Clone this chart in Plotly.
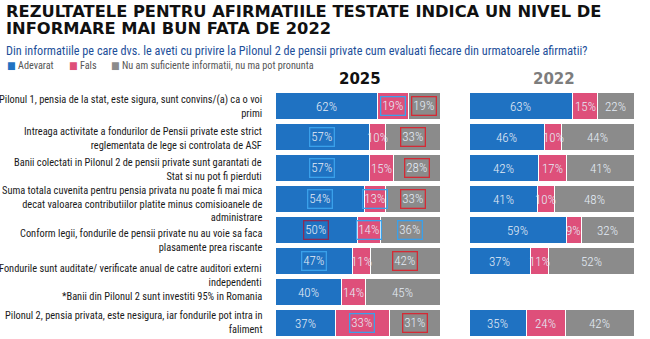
import plotly.graph_objects as go

# ---- data ----
statements = [
    "Pilonul 1, pensia de la stat, este sigura, sunt convins/(a) ca o voi<br>primi",
    "Intreaga activitate a fondurilor de Pensii private este strict<br>reglementata de lege si controlata de ASF",
    "Banii colectati in Pilonul 2 de pensii private sunt garantati de<br>Stat si nu pot fi pierduti",
    "Suma totala cuvenita pentru pensia privata nu poate fi mai mica<br>decat valoarea contributiilor platite minus comisioanele de<br>administrare",
    "Conform legii, fondurile de pensii private nu au voie sa faca<br>plasamente prea riscante",
    "Fondurile sunt auditate/ verificate anual de catre auditori externi<br>independenti",
    "*Banii din Pilonul 2 sunt investiti 95% in Romania",
    "Pilonul 2, pensia privata, este nesigura, iar fondurile pot intra in<br>faliment",
]
series_names = ["Adevarat", "Fals", "Nu am suficiente informatii, nu ma pot pronunta"]
adevarat_2025 = [62, 57, 57, 54, 50, 47, 40, 37]
fals_2025 = [19, 10, 15, 13, 14, 11, 14, 33]
nu_stiu_2025 = [19, 33, 28, 33, 36, 42, 45, 31]
adevarat_2022 = [63, 46, 42, 41, 59, 37, None, 35]
fals_2022 = [15, 10, 17, 10, 9, 11, None, 24]
nu_stiu_2022 = [22, 44, 41, 48, 32, 52, None, 42]
# highlight boxes around 2025 labels ("b" = blue box, "r" = red box, "d" = dark red box, "" = none)
box_adevarat_2025 = ["", "b", "b", "b", "d", "b", "", ""]
box_fals_2025 = ["b", "", "", "b", "b", "", "", "b"]
box_nu_stiu_2025 = ["r", "r", "r", "r", "b", "r", "", "r"]

# ---- style ----
W, H = 650, 339
colors = ["#1f72c2", "#de4f7a", "#8b8b8b"]
box_colors = {"b": "#3aa0ea", "r": "#d42a35", "d": "#8a2a55"}
label_font = "Roboto Condensed, DejaVu Sans Condensed, sans-serif"
title_font = "DejaVu Sans, Verdana, sans-serif"

rows = list(range(len(statements)))

fig = go.Figure()
panels = [
    ("x", "y", [adevarat_2025, fals_2025, nu_stiu_2025]),
    ("x2", "y2", [adevarat_2022, fals_2022, nu_stiu_2022]),
]
for xa, ya, vals in panels:
    for name, v, c in zip(series_names, vals, colors):
        fig.add_trace(go.Bar(
            y=rows, x=v, orientation="h", name=name, xaxis=xa, yaxis=ya,
            marker=dict(color=c, line=dict(color="white", width=1)),
            width=0.84, showlegend=False, hoverinfo="skip",
        ))

ann = []
# value labels (normalized cumulative positions)
boxes_2025 = [box_adevarat_2025, box_fals_2025, box_nu_stiu_2025]
for pi, (xa, ya, vals) in enumerate(panels):
    for r in rows:
        seg = [vals[k][r] for k in range(3)]
        if seg[0] is None:
            continue
        tot = sum(seg)
        cum = 0
        for k in range(3):
            w = seg[k] / tot * 100
            mid = cum + w / 2
            cum += w
            b = boxes_2025[k][r] if pi == 0 else ""
            a = dict(x=mid, y=r, xref=xa, yref=ya, text=f"{seg[k]}%", showarrow=False,
                     font=dict(family=label_font, size=13, color="#e4ecf6", weight=300),
                     xanchor="center", yanchor="middle")
            if b:
                a.update(bordercolor=box_colors[b], borderwidth=1.3, borderpad=1)
            ann.append(a)

# statement labels
label_shift = [0, -1, -1, -5, -10, -14, -4, 1]
for r, s in enumerate(statements):
    ann.append(dict(x=264 / W, y=r, xref="paper", yref="y", text=s, showarrow=False,
                    xanchor="right", yanchor="middle", align="right", yshift=label_shift[r],
                    font=dict(family=label_font, size=10.4, color="#1a1a1a")))

# titles
ann.append(dict(x=4 / W, y=1 - 11.5 / H, xref="paper", yref="paper", xanchor="left", yanchor="middle",
                text="<b>REZULTATELE PENTRU AFIRMATIILE TESTATE INDICA UN NIVEL DE</b>", showarrow=False,
                font=dict(family=title_font, size=16.3, color="#111111")))
ann.append(dict(x=4 / W, y=1 - 28 / H, xref="paper", yref="paper", xanchor="left", yanchor="middle",
                text="<b>INFORMARE MAI BUN FATA DE 2022</b>", showarrow=False,
                font=dict(family=title_font, size=16.3, color="#111111")))
ann.append(dict(x=4 / W, y=1 - 51 / H, xref="paper", yref="paper", xanchor="left", yanchor="middle",
                text="Din informatiile pe care dvs. le aveti cu privire la Pilonul 2 de pensii private cum evaluati fiecare din urmatoarele afirmatii?",
                showarrow=False, font=dict(family=label_font, size=12.2, color="#1d4f9a")))
# legend
for xpx, name, c in zip([5, 67, 109], series_names, colors):
    ann.append(dict(x=xpx / W, y=1 - 65 / H, xref="paper", yref="paper", xanchor="left", yanchor="middle",
                    text=f"<span style='color:{c}'>■</span> {name}", showarrow=False,
                    font=dict(family=label_font, size=10.2, color="#555555")))
# panel years
ann.append(dict(x=360 / W, y=1 - 79 / H, xref="paper", yref="paper", text="<b>2025</b>", showarrow=False,
                xanchor="center", yanchor="middle",
                font=dict(family=title_font, size=15, color="#111111")))
ann.append(dict(x=554 / W, y=1 - 79 / H, xref="paper", yref="paper", text="<b>2022</b>", showarrow=False,
                xanchor="center", yanchor="middle",
                font=dict(family=title_font, size=15, color="#7d7d7d")))

# y mapping: row i centered at pixel 106 + 31*i from top
top_val = -106 / 31
bot_val = (H - 106) / 31
yax = dict(range=[bot_val, top_val], domain=[0, 1], visible=False, fixedrange=True)

fig.update_layout(
    width=W, height=H, margin=dict(l=0, r=0, t=0, b=0),
    paper_bgcolor="white", plot_bgcolor="white",
    barmode="stack", barnorm="percent",
    xaxis=dict(domain=[275 / W, 440 / W], range=[0, 100], visible=False),
    xaxis2=dict(domain=[469 / W, 634 / W], range=[0, 100], visible=False),
    yaxis=dict(yax, anchor="x"),
    yaxis2=dict(yax, anchor="x2"),
    annotations=ann,
    showlegend=False,
)
fig.write_html("out.html")
